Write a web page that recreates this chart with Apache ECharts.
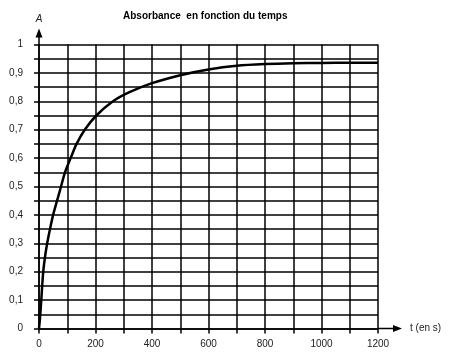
<!DOCTYPE html>
<html>
<head>
<meta charset="utf-8">
<script src="https://cdn.jsdelivr.net/npm/echarts@6/dist/echarts.min.js"></script>
<style>html,body{margin:0;padding:0;background:#fff;}#c{width:452px;height:358px;}</style>
</head>
<body>
<div id="c"></div>
<script>
var titleText = 'Absorbance  en fonction du temps';
var xName = 't (en s)';
var yName = 'A';
var times = [0, 3, 6, 10, 15, 21, 29, 39, 50, 64, 78, 92, 112, 133, 162, 203, 262, 320, 400, 500, 600, 700, 800, 900, 1000, 1100, 1200];
var absorbance = [0, 0.03, 0.07, 0.13, 0.2, 0.25, 0.3, 0.35, 0.4, 0.45, 0.5, 0.55, 0.6, 0.65, 0.7, 0.75, 0.8, 0.832, 0.864, 0.892, 0.912, 0.925, 0.931, 0.934, 0.935, 0.936, 0.936];

var pts = times.map(function (t, i) { return [t, absorbance[i]]; });
var chart = echarts.init(document.getElementById('c'), null, {renderer: 'canvas'});
var font = 'Liberation Sans, Arial, sans-serif';
var yArrow = 'path://M0 9 L3.5 0 L7 9 Z M2.75 9 L4.25 9 L4.25 16 L2.75 16 Z';
var xArrow = 'path://M0 9 L3.5 0 L7 9 Z M2.75 9 L4.25 9 L4.25 24 L2.75 24 Z';
chart.setOption({
  animation: false,
  backgroundColor: '#fff',
  title: {
    text: titleText, left: 118, top: 6,
    textStyle: {fontFamily: font, fontSize: 10, fontWeight: 'bold', color: '#000'}
  },
  grid: {left: 39, right: 74, top: 44.5, bottom: 29.5, containLabel: false},
  xAxis: {
    type: 'value', min: 0, max: 1200, interval: 100,
    name: xName, nameLocation: 'end', nameGap: 32,
    nameTextStyle: {fontFamily: font, fontSize: 10, color: '#222', verticalAlign: 'middle'},
    axisLine: {show: true, lineStyle: {color: '#000', width: 1.5}, symbol: ['none', xArrow], symbolSize: [7, 24], symbolOffset: [0, 12]},
    axisTick: {show: true, length: 5, inside: false, lineStyle: {color: '#000', width: 1.5}},
    splitLine: {show: true, lineStyle: {color: '#000', width: 1.5}},
    axisLabel: {
      margin: 11, fontFamily: font, fontSize: 10, color: '#222',
      formatter: function (v) { return (Math.round(v) % 200 === 0) ? String(Math.round(v)) : ''; }
    }
  },
  yAxis: {
    type: 'value', min: 0, max: 1, interval: 0.05,
    name: yName, nameLocation: 'end', nameGap: 20,
    nameTextStyle: {fontFamily: font, fontSize: 10, fontStyle: 'italic', color: '#222', align: 'center'},
    axisLine: {show: true, lineStyle: {color: '#000', width: 1.5}, symbol: ['none', yArrow], symbolSize: [7, 16], symbolOffset: [0, 8]},
    axisTick: {show: true, length: 5, inside: false, lineStyle: {color: '#000', width: 1.5}},
    splitLine: {show: true, lineStyle: {color: '#000', width: 1.5}},
    axisLabel: {
      margin: 16, fontFamily: font, fontSize: 10, color: '#222',
      formatter: function (v) {
        var k = Math.round(v * 100);
        if (k % 10 !== 0) return '';
        return String(k / 100).replace('.', ',');
      }
    }
  },
  series: [{
    type: 'line', data: pts, smooth: 0.3, showSymbol: false,
    lineStyle: {color: '#000', width: 2.5}, z: 5
  }]
});
</script>
</body>
</html>
